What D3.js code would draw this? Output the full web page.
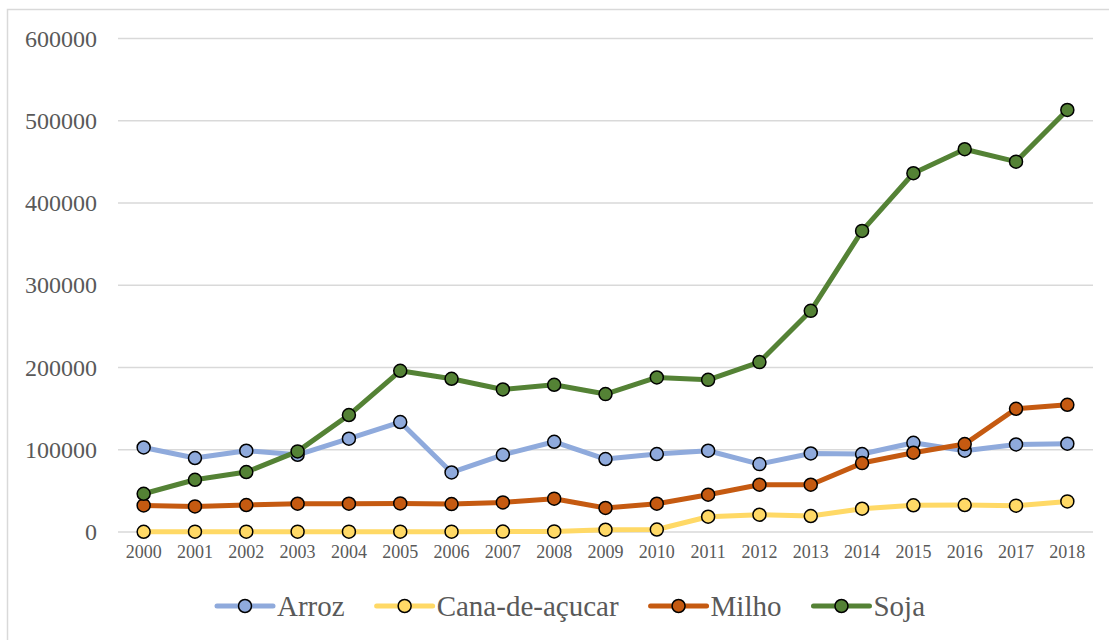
<!DOCTYPE html>
<html lang="pt">
<head>
    <meta charset="UTF-8">
    <title>Produção agrícola 2000-2018</title>
    <style>
        body {
            margin: 0;
            background-color: #fff;
        }

        svg text {
            font-family: 'Liberation Serif', 'Times New Roman', serif;
        }

        .grid line {
            stroke: #d9d9d9;
            stroke-width: 1.3;
        }

        .tick-label {
            fill: #595959;
        }

        .legend text {
            fill: #595959;
            font-size: 29px;
        }
    </style>
</head>
<body>

<div id="chart"></div>

<script src="https://d3js.org/d3.v7.min.js"></script>
<script>
    // Data
    const years = ["2000", "2001", "2002", "2003", "2004", "2005", "2006", "2007", "2008", "2009",
        "2010", "2011", "2012", "2013", "2014", "2015", "2016", "2017", "2018"];

    const arroz = [102800, 89900, 98800, 93900, 113400, 133700, 72400, 93900, 109700, 88700,
        94800, 98800, 82600, 95500, 94800, 108500, 98800, 106400, 107300];

    const canaDeAcucar = [300, 400, 400, 400, 400, 400, 400, 500, 700, 2800,
        3000, 18600, 21000, 19400, 28300, 32500, 32800, 32000, 37200];

    const milho = [32300, 31100, 32800, 34400, 34400, 34800, 34000, 36000, 40500, 29200,
        34400, 45300, 57500, 57500, 83800, 96400, 106900, 149800, 154700];

    const soja = [46500, 63500, 72900, 98000, 142200, 196000, 186300, 173300, 179000, 167700,
        187900, 185000, 206600, 268900, 366100, 436200, 465400, 450300, 513100];

    const yTicks = [0, 100000, 200000, 300000, 400000, 500000, 600000];

    const seriesNames = ["Arroz", "Cana-de-açucar", "Milho", "Soja"];
    const seriesValues = [arroz, canaDeAcucar, milho, soja];
    const seriesColors = ["#8faadc", "#ffd966", "#c55a11", "#548235"];

    const width = 1109;
    const height = 640;
    const margin = {top: 38.5, right: 16, bottom: 108, left: 118};

    const svg = d3.select("#chart")
        .append("svg")
        .attr("width", width)
        .attr("height", height)
        .attr("font-family", "'Liberation Serif', serif");

    // chart area border
    svg.append("rect")
        .attr("x", 7.5)
        .attr("y", 9.5)
        .attr("width", width)
        .attr("height", height)
        .attr("fill", "none")
        .attr("stroke", "#d9d9d9")
        .attr("stroke-width", 1.5);

    const x = d3.scaleBand()
        .domain(years)
        .range([margin.left, width - margin.right]);

    const y = d3.scaleLinear()
        .domain([0, 600000])
        .range([height - margin.bottom, margin.top]);

    // gridlines
    svg.append("g")
        .attr("class", "grid")
        .selectAll("line")
        .data(yTicks)
        .join("line")
        .attr("x1", margin.left)
        .attr("x2", width - margin.right)
        .attr("y1", d => y(d))
        .attr("y2", d => y(d));

    // y axis labels
    svg.append("g")
        .selectAll("text")
        .data(yTicks)
        .join("text")
        .attr("class", "tick-label")
        .attr("x", 97)
        .attr("y", d => y(d))
        .attr("dy", "0.34em")
        .attr("text-anchor", "end")
        .style("font-size", "24px")
        .text(d => d);

    // x axis labels
    svg.append("g")
        .selectAll("text")
        .data(years)
        .join("text")
        .attr("class", "tick-label")
        .attr("x", d => x(d) + x.bandwidth() / 2)
        .attr("y", 558)
        .attr("text-anchor", "middle")
        .style("font-size", "18px")
        .text(d => d);

    const line = d3.line()
        .x((d, i) => x(years[i]) + x.bandwidth() / 2)
        .y(d => y(d));

    const series = seriesNames.map((name, k) => ({
        name: name,
        values: seriesValues[k],
        color: seriesColors[k]
    }));

    // lines first, then markers on top
    series.forEach(s => {
        svg.append("path")
            .datum(s.values)
            .attr("fill", "none")
            .attr("stroke", s.color)
            .attr("stroke-width", 5)
            .attr("stroke-linejoin", "round")
            .attr("d", line);

        svg.append("g")
            .selectAll("circle")
            .data(s.values)
            .join("circle")
            .attr("cx", (d, i) => x(years[i]) + x.bandwidth() / 2)
            .attr("cy", d => y(d))
            .attr("r", 6.5)
            .attr("fill", s.color)
            .attr("stroke", "#000")
            .attr("stroke-width", 1.5);
    });

    // legend
    const legend = svg.append("g").attr("class", "legend");
    let lx = 217;
    const ly = 606;
    series.forEach(s => {
        const item = legend.append("g");
        item.append("line")
            .attr("x1", lx)
            .attr("x2", lx + 56)
            .attr("y1", ly)
            .attr("y2", ly)
            .attr("stroke", s.color)
            .attr("stroke-width", 5)
            .attr("stroke-linecap", "round");
        item.append("circle")
            .attr("cx", lx + 28)
            .attr("cy", ly)
            .attr("r", 6.5)
            .attr("fill", s.color)
            .attr("stroke", "#000")
            .attr("stroke-width", 1.5);
        const t = item.append("text")
            .attr("x", lx + 60)
            .attr("y", ly)
            .attr("dy", "0.34em")
            .text(s.name);
        lx += 60 + t.node().getComputedTextLength() + 32;
    });
</script>

</body>
</html>
